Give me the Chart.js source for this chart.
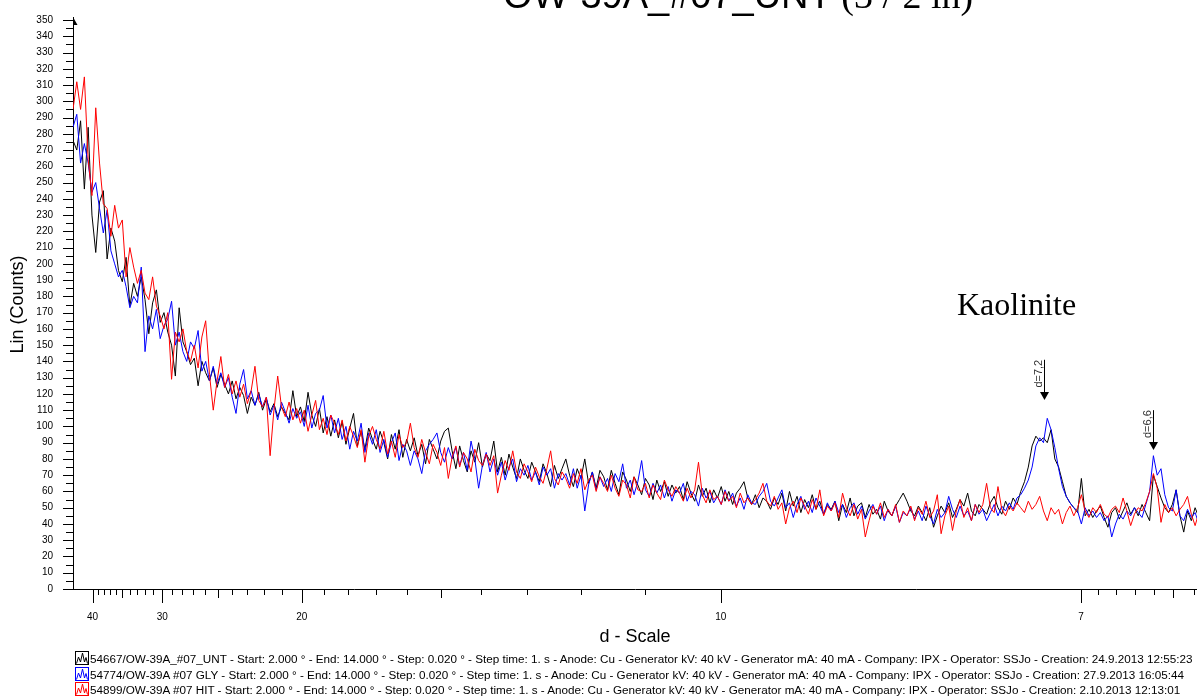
<!DOCTYPE html>
<html lang="en">
<head>
<meta charset="UTF-8" />
<title>OW-39A_#07_UNT</title>
<script src="https://cdn.jsdelivr.net/npm/chart.js"></script>
<style>
  body { margin: 0; background: #fff; }
  #wrap { position: relative; width: 1197px; height: 697px; overflow: hidden; }
  .leg { position: absolute; left: 75px; font: 11.7px "Liberation Sans", Arial, sans-serif; color: #000; white-space: nowrap; line-height: 15px; }
  .leg svg { vertical-align: -2px; margin-right: 1px; }
</style>
</head>
<body>
<div id="wrap">
  <canvas id="xrd" width="1197" height="697"></canvas>
</div>
<script>
// scan: 2theta start / step (deg), Cu K-alpha
const START = 2.0;
const STEP = 0.04;
const LAMBDA = 1.5406;

const BLACK = [
  276, 270, 288, 246, 284, 230, 207, 238, 245, 203,
  222, 214, 196, 189, 204, 174, 188, 180, 192, 178,
  157, 176, 184, 164, 170, 158, 150, 131, 173, 152,
  146, 138, 142, 125, 140, 133, 128, 136, 124, 132,
  126, 120, 128, 117, 124, 119, 108, 118, 113, 121,
  110, 117, 109, 114, 106, 112, 108, 104, 122, 106,
  112, 103, 121, 107, 100, 111, 96, 106, 94, 104,
  93, 103, 89, 99, 108, 88, 97, 86, 99, 92,
  86, 97, 90, 80, 95, 86, 98, 81, 92, 85,
  93, 82, 89, 77, 92, 86, 80, 91, 97, 99,
  85, 74, 88, 79, 72, 85, 78, 90, 75, 83,
  79, 91, 72, 81, 70, 83, 75, 68, 80, 73,
  68, 78, 72, 66, 77, 71, 63, 76, 68, 74,
  80, 70, 63, 74, 68, 80, 65, 72, 62, 73,
  69, 61, 73, 65, 58, 72, 67, 60, 69, 64,
  58, 68, 64, 55, 67, 60, 66, 57, 64, 59,
  63, 55, 66, 59, 54, 64, 57, 62, 53, 61,
  56, 63, 54, 60, 52, 59, 62, 66, 56, 52,
  58, 50, 56, 54, 49, 56, 52, 59, 48, 60,
  51, 57, 47, 55, 50, 58, 49, 54, 46, 52,
  49, 54, 42, 52, 47, 56, 45, 51, 53, 44,
  52, 46, 49, 43, 54, 48, 45, 51, 55, 59,
  54, 48, 45, 51, 47, 42, 50, 38, 45, 51,
  47, 53, 44, 49, 55, 51, 59, 48, 45, 52,
  49, 46, 53, 57, 50, 46, 54, 49, 56, 52,
  60, 66, 75, 88, 94, 91, 93, 90, 98, 80,
  75, 66, 57, 53, 50, 47, 68, 45, 49, 44,
  48, 51, 44, 38, 47, 50, 43, 48, 53, 46,
  50, 45, 52, 47, 42, 70, 63, 56, 50, 47,
  52, 61, 45, 35, 48, 42, 50, 44, 47, 41];

const BLUE = [
  284, 292, 262, 274, 262, 244, 250, 234, 219, 233,
  208, 200, 192, 196, 186, 173, 180, 176, 198, 146,
  168, 160, 172, 154, 162, 166, 177, 150, 158, 146,
  140, 152, 148, 159, 134, 140, 128, 137, 126, 133,
  124, 130, 118, 108, 126, 135, 117, 122, 113, 120,
  112, 118, 107, 113, 104, 115, 109, 102, 111, 105,
  109, 100, 113, 99, 108, 110, 119, 99, 107, 96,
  105, 92, 100, 86, 97, 91, 102, 84, 96, 89,
  98, 84, 92, 81, 90, 96, 79, 89, 85, 76,
  85, 80, 71, 85, 89, 92, 96, 84, 78, 87,
  80, 87, 76, 84, 73, 91, 80, 62, 76, 84,
  72, 80, 70, 78, 67, 75, 80, 66, 74, 70,
  76, 67, 72, 64, 75, 70, 74, 62, 71, 67,
  71, 64, 74, 62, 70, 48, 64, 72, 61, 69,
  63, 68, 60, 71, 66, 77, 62, 67, 58, 66,
  79, 61, 57, 65, 59, 64, 56, 63, 54, 61,
  59, 65, 54, 60, 58, 51, 62, 56, 60, 53,
  57, 52, 61, 54, 59, 51, 56, 49, 58, 53,
  52, 57, 60, 65, 54, 51, 56, 61, 50, 53,
  44, 52, 57, 49, 54, 47, 56, 51, 46, 53,
  48, 54, 47, 52, 44, 50, 53, 46, 51, 43,
  48, 52, 46, 51, 42, 49, 45, 51, 41, 47,
  45, 50, 43, 48, 42, 51, 45, 40, 49, 44,
  47, 57, 49, 44, 51, 45, 48, 42, 52, 46,
  49, 42, 47, 52, 45, 51, 48, 53, 49, 56,
  58, 62, 67, 75, 88, 93, 90, 105, 98, 87,
  74, 63, 57, 53, 50, 48, 40, 50, 45, 48,
  44, 47, 42, 45, 32, 40, 46, 43, 48, 45,
  50, 47, 44, 52, 60, 82, 70, 74, 58, 50,
  48, 61, 45, 42, 49, 44, 47, 40, 46, 43];

const RED = [
  295, 312, 295, 315, 264, 242, 296, 262, 237, 234,
  217, 236, 222, 227, 192, 210, 198, 188, 196, 182,
  178, 192, 174, 168, 160, 170, 129, 158, 152, 160,
  146, 140, 150, 136, 155, 165, 132, 110, 128, 143,
  124, 132, 120, 128, 118, 126, 114, 122, 137, 116,
  112, 118, 82, 110, 131, 112, 106, 115, 104, 111,
  102, 110, 97, 107, 116, 98, 105, 95, 107, 102,
  95, 104, 91, 100, 94, 87, 98, 78, 94, 100,
  92, 86, 97, 83, 91, 81, 95, 87, 90, 102,
  87, 81, 92, 84, 77, 89, 84, 76, 87, 68,
  81, 88, 75, 84, 80, 72, 86, 79, 76, 83,
  76, 82, 59, 70, 79, 73, 85, 72, 68, 77,
  72, 66, 75, 69, 65, 74, 85, 68, 64, 72,
  68, 62, 71, 65, 74, 61, 67, 70, 60, 69,
  65, 60, 70, 62, 57, 67, 64, 56, 69, 61,
  60, 65, 56, 64, 59, 55, 67, 61, 57, 63,
  59, 54, 62, 56, 61, 78, 58, 53, 61, 55,
  57, 52, 60, 54, 57, 50, 59, 53, 56, 52,
  55, 59, 65, 54, 51, 57, 49, 53, 40, 50,
  54, 47, 56, 51, 46, 55, 49, 61, 45, 51,
  48, 53, 44, 59, 50, 45, 52, 43, 49, 32,
  42, 51, 46, 53, 44, 49, 45, 52, 41, 48,
  45, 51, 42, 50, 46, 54, 44, 48, 58, 34,
  45, 51, 36, 48, 55, 44, 50, 42, 52, 47,
  52, 65, 50, 47, 63, 49, 45, 51, 48, 53,
  50, 47, 54, 49, 52, 57, 48, 42, 50, 46,
  49, 40, 47, 51, 45, 50, 58, 48, 44, 50,
  47, 52, 46, 44, 49, 51, 47, 56, 48, 39,
  46, 50, 48, 53, 60, 71, 62, 41, 52, 47,
  50, 45, 49, 52, 57, 46, 39, 47, 44, 48];

// d-scale ticks (Angstrom)
const D_MAJOR = [40, 30, 20, 10, 7];
const D_MID = [35, 25, 15, 6.5];
const D_MINOR = [39, 38, 37, 36, 34, 33, 32, 31, 29, 28, 27, 26, 24, 23, 22, 21,
  19, 18, 17, 16, 14, 13, 12, 11, 6.9, 6.8, 6.7, 6.6, 6.4];

const Y_MAX = 350;

const PEAK_LABELS = ['d=7,2', 'd=6,6'];
const PEAK_THETA = [12.249, 13.399];
const PEAK_TOP = [141, 110];
const PEAK_TIP = [116.3, 85.5];

const SERIES_COLORS = ['#000000', '#0000ff', '#ff0000'];
const LEGEND_TEXT = [
  '54667/OW-39A_#07_UNT - Start: 2.000 ° - End: 14.000 ° - Step: 0.020 ° - Step time: 1. s - Anode: Cu - Generator kV: 40 kV - Generator mA: 40 mA - Company: IPX - Operator: SSJo - Creation: 24.9.2013 12:55:23',
  '54774/OW-39A #07 GLY - Start: 2.000 ° - End: 14.000 ° - Step: 0.020 ° - Step time: 1. s - Anode: Cu - Generator kV: 40 kV - Generator mA: 40 mA - Company: IPX - Operator: SSJo - Creation: 27.9.2013 16:05:44',
  '54899/OW-39A #07 HIT - Start: 2.000 ° - End: 14.000 ° - Step: 0.020 ° - Step time: 1. s - Anode: Cu - Generator kV: 40 kV - Generator mA: 40 mA - Company: IPX - Operator: SSJo - Creation: 2.10.2013 12:13:01'
];

const SANS = '"Liberation Sans", Arial, sans-serif';
const SERIF = '"Liberation Serif", "Times New Roman", serif';

function dToTheta(d) {
  return 2 * Math.asin(LAMBDA / (2 * d)) * 180 / Math.PI;
}

function points(vals) {
  return vals.map((v, i) => ({ x: START + i * STEP, y: v }));
}

// tick marks, arrows, title and annotations
const decor = {
  id: 'decor',
  afterDraw(chart) {
    const { ctx, chartArea: a, scales: { x, y } } = chart;
    ctx.save();
    ctx.strokeStyle = '#000';
    ctx.lineWidth = 1;
    ctx.beginPath();
    for (let v = 0; v <= Y_MAX; v += 5) {
      const py = Math.round(y.getPixelForValue(v)) + 0.5;
      ctx.moveTo(a.left, py);
      ctx.lineTo(a.left - (v % 10 ? 7 : 10), py);
    }
    const xt = (list, len) => list.forEach(d => {
      const px = Math.round(x.getPixelForValue(dToTheta(d))) + 0.5;
      ctx.moveTo(px, a.bottom);
      ctx.lineTo(px, a.bottom + len);
    });
    xt(D_MAJOR, 14);
    xt(D_MID, 9);
    xt(D_MINOR, 6);
    // y axis a bit above the top
    const ax = Math.round(a.left) + 0.5;
    ctx.moveTo(ax, a.top);
    ctx.lineTo(ax, a.top - 3);
    ctx.stroke();

    ctx.fillStyle = '#000';
    ctx.beginPath();
    ctx.moveTo(ax - 0.5, a.top - 3);
    ctx.lineTo(ax - 0.5, a.top + 5);
    ctx.lineTo(ax + 4, a.top + 5);
    ctx.closePath();
    ctx.fill();

    // title (cut off at top)
    ctx.textBaseline = 'alphabetic';
    ctx.textAlign = 'left';
    ctx.font = '38px ' + SANS;
    const t1 = 'OW-39A_#07_UNT';
    ctx.fillText(t1, 503, 8);
    const w1 = ctx.measureText(t1).width;
    ctx.font = '38px ' + SERIF;
    ctx.fillText(' (3 / 2 in)', 503 + w1, 8);

    ctx.font = '32px ' + SERIF;
    ctx.fillText('Kaolinite', 957, 315);

    // peak markers
    PEAK_LABELS.forEach((lab, i) => {
      const px = Math.round(x.getPixelForValue(PEAK_THETA[i])) + 0.5;
      const top = y.getPixelForValue(PEAK_TOP[i]);
      const tip = y.getPixelForValue(PEAK_TIP[i]);
      ctx.beginPath();
      ctx.moveTo(px, top);
      ctx.lineTo(px, tip - 7);
      ctx.stroke();
      ctx.beginPath();
      ctx.moveTo(px - 4.5, tip - 8);
      ctx.lineTo(px + 4.5, tip - 8);
      ctx.lineTo(px, tip);
      ctx.closePath();
      ctx.fill();
      ctx.save();
      ctx.translate(px - 2.5, top);
      ctx.rotate(-Math.PI / 2);
      ctx.font = '11px ' + SANS;
      ctx.fillStyle = '#333';
      ctx.textAlign = 'right';
      ctx.fillText(lab, 0, 0);
      ctx.restore();
    });
    ctx.restore();
  }
};

const tickFont = { family: SANS, size: 10 };

new Chart(document.getElementById('xrd'), {
  type: 'line',
  data: {
    datasets: [
      { label: 'UNT', data: points(BLACK), borderColor: SERIES_COLORS[0], order: 3 },
      { label: 'GLY', data: points(BLUE), borderColor: SERIES_COLORS[1], order: 2 },
      { label: 'HIT', data: points(RED), borderColor: SERIES_COLORS[2], order: 1 }
    ]
  },
  options: {
    responsive: false,
    animation: false,
    layout: { padding: { top: 20, right: 0, left: 0, bottom: 0 } },
    elements: {
      point: { radius: 0 },
      line: { borderWidth: 1, tension: 0, fill: false }
    },
    plugins: { legend: { display: false }, tooltip: { enabled: false } },
    scales: {
      x: {
        type: 'linear',
        min: START,
        max: 13.86,
        afterBuildTicks: s => { s.ticks = D_MAJOR.map(d => ({ value: dToTheta(d) })); },
        afterFit: s => { s.height = 108; },
        grid: { display: false, drawTicks: true, tickLength: 14 },
        border: { display: true, color: '#000', width: 1 },
        ticks: {
          autoSkip: false, maxRotation: 0, padding: 8, color: '#000', font: tickFont,
          callback: (v, i) => String(D_MAJOR[i])
        },
        title: { display: true, text: 'd - Scale', color: '#000', font: { family: SANS, size: 18 }, padding: { top: 0, bottom: 49 } }
      },
      y: {
        min: 0,
        max: Y_MAX,
        afterBuildTicks: s => {
          const t = [];
          for (let v = 0; v <= Y_MAX; v += 10) t.push({ value: v });
          s.ticks = t;
        },
        afterFit: s => { s.width = 73; },
        grid: { display: false, drawTicks: true, tickLength: 10 },
        border: { display: true, color: '#000', width: 1 },
        ticks: { autoSkip: false, padding: 10, color: '#000', font: tickFont },
        title: { display: true, text: 'Lin (Counts)', color: '#000', font: { family: SANS, size: 18 }, padding: { top: 7, bottom: 0 } }
      }
    }
  },
  plugins: [decor]
});

// legend rows
const wrap = document.getElementById('wrap');
LEGEND_TEXT.forEach((txt, i) => {
  const c = SERIES_COLORS[i];
  const row = document.createElement('div');
  row.className = 'leg';
  row.style.top = (651 + i * 15.5) + 'px';
  row.innerHTML = '<svg width="14" height="14"><rect x="0.5" y="0.5" width="13" height="13" fill="none" stroke="' + c +
    '"/><polyline points="1.5,12.5 3.5,6 5.5,11 7.5,2 9.5,11 11,6.5 12.5,12.5" fill="none" stroke="' + c + '"/></svg>';
  row.appendChild(document.createTextNode(txt));
  wrap.appendChild(row);
});
</script>
</body>
</html>
